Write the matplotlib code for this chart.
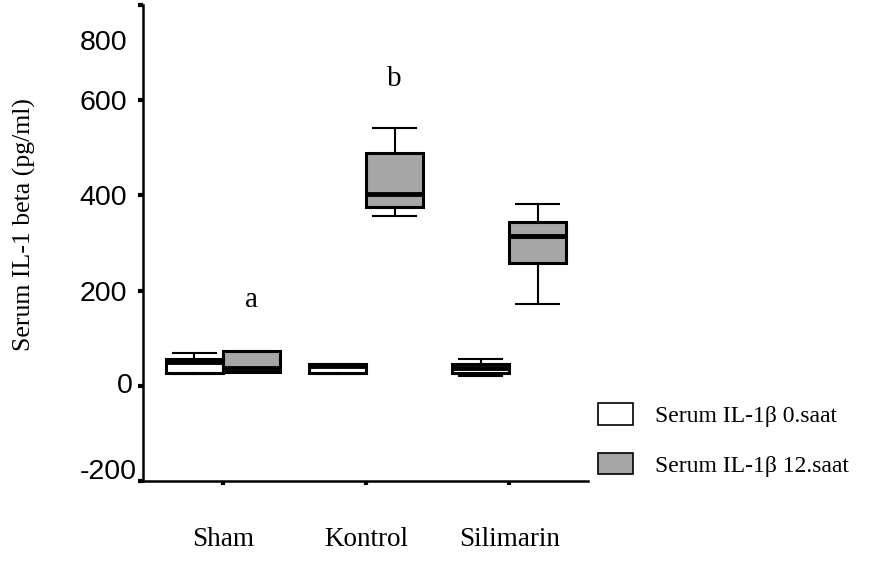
import matplotlib
matplotlib.use("Agg")
import matplotlib.pyplot as plt
from matplotlib.patches import Patch

# group labels and box statistics (pg/ml)
groups = ["Sham", "Kontrol", "Silimarin"]
series = ["Serum IL-1β 0.saat", "Serum IL-1β 12.saat"]

low_0h = [24, 24, 21]
q1_0h = [27, 27, 27]
med_0h = [50, 42, 38]
q3_0h = [57, 45, 46]
high_0h = [68, 46, 57]

low_12h = [29, 356, 171]
q1_12h = [29, 375, 259]
med_12h = [38, 404, 314]
q3_12h = [74, 490, 345]
high_12h = [74, 541, 381]

letters = ["a", "b"]
letter_x = [0.2, 1.2]
letter_y = [180, 645]

yticks = [-200, 0, 200, 400, 600, 800]

SERIF = ["Liberation Serif", "DejaVu Serif"]
SANS = ["Liberation Sans", "DejaVu Sans"]

fig = plt.figure(figsize=(8.8, 5.61), dpi=100)
ax = fig.add_axes([0.1625, 0.1426, 0.5055, 0.8484])


def make_stats(lo, q1, med, q3, hi):
    return [dict(whislo=a, q1=b, med=c, q3=d, whishi=e, fliers=[])
            for a, b, c, d, e in zip(lo, q1, med, q3, hi)]


pos = list(range(len(groups)))
styles = [
    (make_stats(low_0h, q1_0h, med_0h, q3_0h, high_0h), -0.2, "white"),
    (make_stats(low_12h, q1_12h, med_12h, q3_12h, high_12h), 0.2, "#a6a6a6"),
]
for stats, off, fc in styles:
    ax.bxp(stats, positions=[p + off for p in pos], widths=0.4,
           patch_artist=True, showfliers=False,
           boxprops=dict(facecolor=fc, edgecolor="black", linewidth=2.2),
           medianprops=dict(color="black", linewidth=3.5),
           whiskerprops=dict(color="black", linewidth=1.5),
           capprops=dict(color="black", linewidth=1.5),
           capwidths=0.3)

for t, x, y in zip(letters, letter_x, letter_y):
    ax.text(x, y, t, ha="center", va="center", fontsize=21, family=SERIF)

ax.set_xlim(-0.56, 2.55)
ax.set_ylim(-200, 800)
ax.set_xticks(pos)
ax.set_xticklabels(groups, family=SERIF, fontsize=19.5)
ax.set_yticks(yticks)
ax.set_yticklabels([str(v) for v in yticks], family=SANS, fontsize=20.5)

# some labels in the original sit off their ticks: draw those by hand
shifted = {-200: (-4.3, 6.5, -200), 0: (-7.2, 0, 0), 800: (-11.5, 0, 720)}
for lab, v in zip(ax.get_yticklabels(), yticks):
    if v in shifted:
        lab.set_visible(False)
        dx, dy, yy = shifted[v]
        ax.annotate(str(v), xy=(0, yy), xycoords=("axes fraction", "data"),
                    xytext=(dx, dy), textcoords="offset points",
                    ha="right", va="center", fontsize=20.5, family=SANS)

ax.tick_params(axis="y", direction="out", length=3.6, width=3, pad=8)
ax.tick_params(axis="x", direction="out", length=3, width=3, pad=30)
ax.spines["top"].set_visible(False)
ax.spines["right"].set_visible(False)
ax.spines["left"].set_linewidth(1.8)
ax.spines["bottom"].set_linewidth(1.8)

ax.set_ylabel("Serum IL-1 beta (pg/ml)", family=SERIF, fontsize=18.5)
ax.yaxis.set_label_coords(-0.24, 0.538)

handles = [Patch(facecolor="white", edgecolor="black", linewidth=1.2),
           Patch(facecolor="#a6a6a6", edgecolor="black", linewidth=1.2)]
ax.legend(handles, series, loc="center left", bbox_to_anchor=(0.99, 0.086),
          frameon=False, prop=dict(family=SERIF, size=17),
          handlelength=1.52, handleheight=1.0, labelspacing=1.1, handletextpad=0.9,
          borderaxespad=0.2)

fig.savefig("out.png", dpi=100)
